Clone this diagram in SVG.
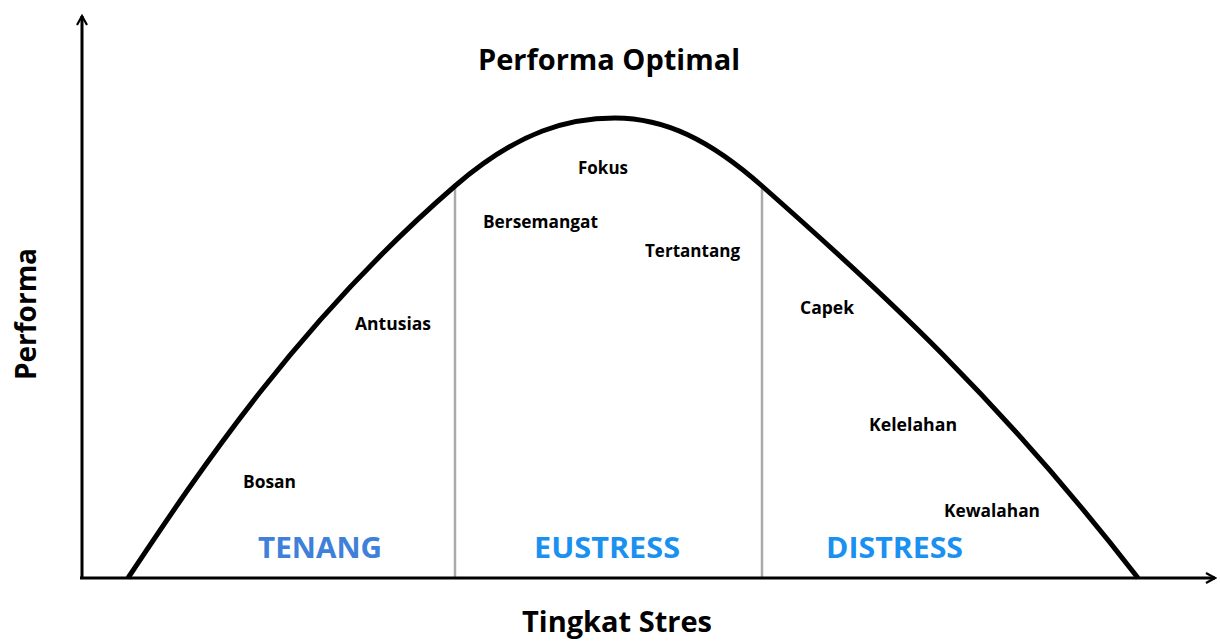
<svg xmlns="http://www.w3.org/2000/svg" width="1220" height="641" viewBox="0 0 1220 641">
<style>
.lbl{font-family:"Open Sans","Noto Sans",sans-serif;font-weight:bold;font-size:17px;fill:#000}
.big{font-family:"Open Sans","Noto Sans",sans-serif;font-weight:bold;font-size:29px;fill:#000}
.zone{font-family:"Open Sans","Noto Sans",sans-serif;font-weight:bold;font-size:29px}
</style>
<defs>
<marker id="arr" viewBox="0 0 12 12" refX="10" refY="6" markerWidth="12" markerHeight="12" markerUnits="userSpaceOnUse" orient="auto">
<path d="M1,1 L10,6 L1,11" fill="none" stroke="#000" stroke-width="2.2"/>
</marker>
</defs>
<rect width="1220" height="641" fill="#fff"/>
<g id="connectors">
<line x1="455" y1="186" x2="455" y2="578" stroke="#aaa" stroke-width="2.5"/>
<line x1="762" y1="186" x2="762" y2="578" stroke="#aaa" stroke-width="2.5"/>
<line x1="82" y1="578" x2="82" y2="16" stroke="#000" stroke-width="3" marker-end="url(#arr)"/>
<line x1="80" y1="578" x2="1215" y2="578" stroke="#000" stroke-width="3" marker-end="url(#arr)"/>
<path d="M128,578 C200,470 300,320 455,186 C520,130 570,118 615,118 C665,118 710,140 762,186 C880,290 1000,400 1138,578" fill="none" stroke="#000" stroke-width="5"/>
</g>
<g id="title"><text class="big" x="609" y="70" text-anchor="middle" textLength="262" lengthAdjust="spacingAndGlyphs">Performa Optimal</text></g>
<g id="xlabel"><text class="big" x="617" y="632" text-anchor="middle" textLength="190" lengthAdjust="spacingAndGlyphs">Tingkat Stres</text></g>
<g id="ylabel"><text class="big" transform="translate(36,314) rotate(-90)" text-anchor="middle" textLength="132" lengthAdjust="spacingAndGlyphs">Performa</text></g>
<g id="fokus"><text class="lbl" x="578" y="174" textLength="50" lengthAdjust="spacingAndGlyphs">Fokus</text></g>
<g id="bersemangat"><text class="lbl" x="483" y="228" textLength="115" lengthAdjust="spacingAndGlyphs">Bersemangat</text></g>
<g id="tertantang"><text class="lbl" x="645" y="257" textLength="95" lengthAdjust="spacingAndGlyphs">Tertantang</text></g>
<g id="antusias"><text class="lbl" x="355" y="330" textLength="76" lengthAdjust="spacingAndGlyphs">Antusias</text></g>
<g id="capek"><text class="lbl" x="800" y="314" textLength="54" lengthAdjust="spacingAndGlyphs">Capek</text></g>
<g id="kelelahan"><text class="lbl" x="869" y="431" textLength="88" lengthAdjust="spacingAndGlyphs">Kelelahan</text></g>
<g id="kewalahan"><text class="lbl" x="944" y="517" textLength="96" lengthAdjust="spacingAndGlyphs">Kewalahan</text></g>
<g id="bosan"><text class="lbl" x="243" y="488" textLength="53" lengthAdjust="spacingAndGlyphs">Bosan</text></g>
<g id="tenang"><text class="zone" x="258" y="558" fill="#4080d8" textLength="124" lengthAdjust="spacingAndGlyphs">TENANG</text></g>
<g id="eustress"><text class="zone" x="534" y="558" fill="#1a90f0" textLength="146" lengthAdjust="spacingAndGlyphs">EUSTRESS</text></g>
<g id="distress"><text class="zone" x="826" y="558" fill="#1a90f0" textLength="137" lengthAdjust="spacingAndGlyphs">DISTRESS</text></g>
</svg>
